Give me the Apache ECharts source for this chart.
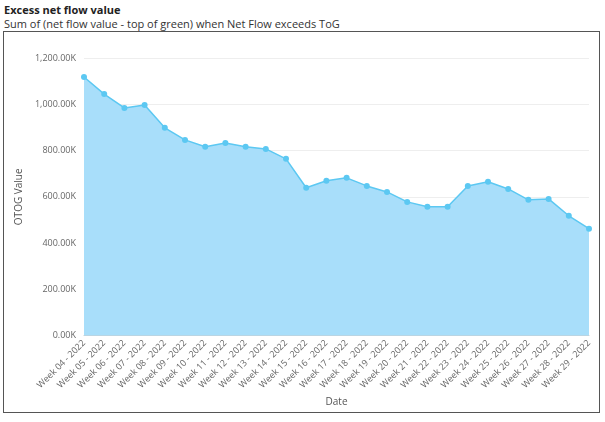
<!DOCTYPE html>
<html>
<head>
  <meta charset="UTF-8">
  <title></title>
  <script type="text/javascript" src="https://cdn.jsdelivr.net/npm/echarts@6/dist/echarts.min.js"></script>
  <style type="text/css">
    *{ margin:0; padding:0; box-sizing:border-box; }
    body{ width:605px; height:422px; background:#fff; font-family:"Open Sans",sans-serif; }
    .t1{ position:absolute; left:4px; top:2px; font-size:11px; font-weight:bold; color:#222; }
    .t2{ position:absolute; left:4px; top:16px; font-size:11px; color:#333; }
    .box{ position:absolute; left:3px; top:31px; width:597px; height:382px; border:1px solid #555; }
  </style>
</head>
<body>
  <div class="t1">Excess net flow value</div>
  <div class="t2">Sum of (net flow value - top of green) when Net Flow exceeds ToG</div>
  <div class="box" id="main"></div>
  <script type="text/javascript">
    var weeks = ['04','05','06','07','08','09','10','11','12','13','14','15','16','17','18','19','20','21','22','23','24','25','26','27','28','29'];
    var categories = weeks.map(function(w){ return 'Week ' + w + ' - 2022'; });
    var values = [1118,1044,984,997,898,846,816,833,816,807,764,639,669,682,647,621,578,557,557,647,665,634,587,591,518,462];
    var yTicks = [0,200,400,600,800,1000,1200];

    var myChart = echarts.init(document.getElementById('main'));
    var option = {
      textStyle:{ fontFamily:'Open Sans' },
      grid:{ left:80, right:10, top:26, bottom:76 },
      xAxis:{
        type:'category', data:categories, boundaryGap:false,
        name:'Date', nameLocation:'middle', nameGap:60,
        nameTextStyle:{ color:'#555', fontSize:10 },
        axisLine:{ lineStyle:{ color:'#ccc' } }, axisTick:{ show:false },
        axisLabel:{ rotate:45, color:'#666', fontSize:9, interval:0, margin:6 }
      },
      yAxis:{
        type:'value', min:0, max:1200, interval:200,
        name:'OTOG Value', nameLocation:'middle', nameGap:58,
        nameTextStyle:{ color:'#555', fontSize:10 },
        axisLabel:{ color:'#666', fontSize:9, formatter:function(v){ return v.toFixed(2).replace(/\B(?=(\d{3})+(?!\d))/,',') + 'K'; } },
        splitLine:{ lineStyle:{ color:'#eee' } }
      },
      series:[{
        type:'line', data:values, symbol:'circle', symbolSize:6,
        itemStyle:{ color:'#5cc8f2' }, lineStyle:{ color:'#5cc8f2', width:1.5 },
        areaStyle:{ color:'#a8defa', opacity:1 }
      }]
    };
    myChart.setOption(option);
  </script>
</body>
</html>
